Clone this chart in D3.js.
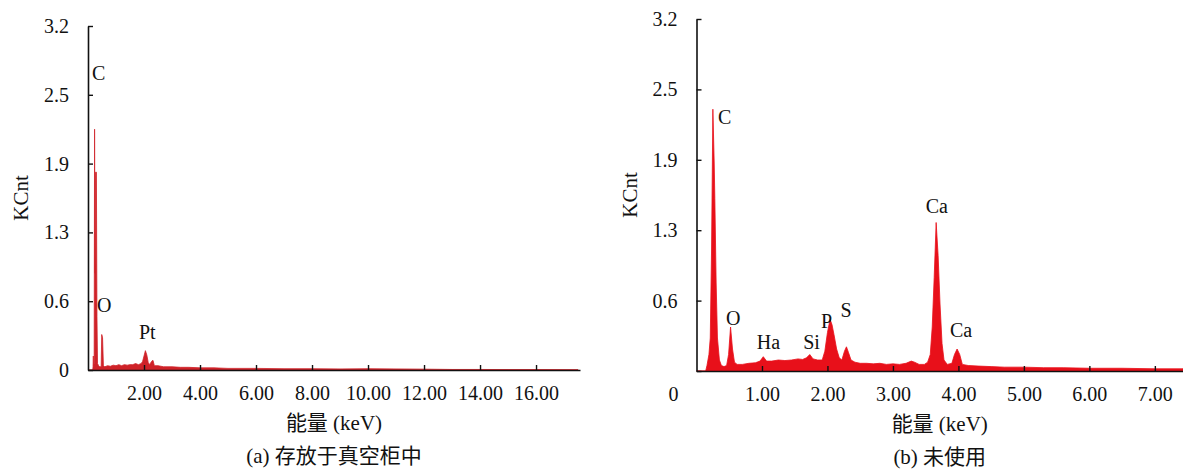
<!DOCTYPE html>
<html>
<head>
<meta charset="utf-8">
<script src="https://cdn.jsdelivr.net/npm/d3@7"></script>
<style>
  html, body { margin: 0; padding: 0; background: #fff; }
  svg text { font-family: "Liberation Serif", "Noto Sans CJK SC", serif; fill: #111; }
</style>
</head>
<body>
<svg id="chart" width="1183" height="471"></svg>
<script>
// ---------- data ----------
// Panel (a): spectrum [energy keV, KCnt]
const spectrumA = [
  [0.00,0],[0.17,0],[0.18,0.03],[0.19,0.13],[0.20,0.04],[0.22,0.06],[0.235,2.24],[0.25,0.9],
  [0.27,1.84],[0.30,1.84],[0.32,0.5],[0.34,0.06],[0.38,0.04],[0.42,0.03],[0.47,0.03],[0.49,0.33],
  [0.52,0.30],[0.55,0.04],[0.6,0.03],[0.7,0.04],[0.8,0.035],[0.9,0.045],[1.0,0.04],[1.1,0.05],
  [1.2,0.04],[1.3,0.05],[1.4,0.045],[1.5,0.05],[1.6,0.05],[1.7,0.06],[1.8,0.05],[1.9,0.06],
  [1.95,0.08],[2.0,0.13],[2.05,0.18],[2.1,0.14],[2.15,0.07],[2.2,0.05],[2.27,0.08],[2.32,0.09],
  [2.37,0.04],[2.5,0.04],[2.7,0.03],[3.0,0.03],[3.3,0.025],[3.6,0.025],[4.0,0.02],[4.5,0.02],
  [5.0,0.015],[5.5,0.015],[6.0,0.015],[7.0,0.012],[8.0,0.012],[9.0,0.01],[10.0,0.012],[11.0,0.01],
  [12.0,0.008],[13.0,0.005],[14.0,0.005],[15.0,0.004],[16.0,0.004],[17.5,0.003]
];
// Panel (b): spectrum [energy keV, KCnt]
const spectrumB = [
  [0.0,0],[0.14,0],[0.16,0.05],[0.19,0.15],[0.21,0.3],[0.23,1.1],[0.25,2.38],[0.27,1.9],[0.28,1.57],
  [0.30,0.8],[0.32,0.3],[0.35,0.1],[0.38,0.05],[0.42,0.04],[0.46,0.05],[0.49,0.15],[0.52,0.40],
  [0.55,0.2],[0.58,0.08],[0.62,0.06],[0.7,0.06],[0.8,0.07],[0.9,0.075],[0.97,0.09],[1.02,0.13],
  [1.07,0.09],[1.15,0.09],[1.25,0.1],[1.35,0.095],[1.45,0.1],[1.55,0.11],[1.62,0.105],[1.68,0.12],
  [1.73,0.15],[1.78,0.11],[1.85,0.1],[1.92,0.1],[1.96,0.18],[2.0,0.35],[2.04,0.47],[2.07,0.42],
  [2.1,0.33],[2.14,0.2],[2.18,0.12],[2.22,0.1],[2.26,0.18],[2.29,0.22],[2.32,0.17],[2.36,0.1],
  [2.42,0.08],[2.5,0.07],[2.6,0.07],[2.7,0.065],[2.8,0.07],[2.9,0.06],[3.0,0.065],[3.1,0.06],
  [3.2,0.07],[3.28,0.09],[3.33,0.08],[3.4,0.06],[3.48,0.06],[3.53,0.08],[3.57,0.15],[3.6,0.4],
  [3.63,0.85],[3.66,1.35],[3.69,1.05],[3.72,0.6],[3.75,0.25],[3.78,0.1],[3.83,0.06],[3.9,0.07],
  [3.94,0.15],[3.98,0.2],[4.02,0.15],[4.06,0.06],[4.15,0.05],[4.3,0.045],[4.5,0.04],[4.7,0.035],
  [5.0,0.035],[5.3,0.03],[5.6,0.03],[6.0,0.025],[6.5,0.025],[7.0,0.02],[7.43,0.02]
];
// peak labels: [text, energy, KCnt] anchor (left / baseline)
const labelsA = [["C",0.14,2.70],["O",0.32,0.54],["Pt",1.82,0.29]];
const labelsB = [["C",0.33,2.25],["O",0.45,0.42],["Ha",0.92,0.20],["Si",1.63,0.20],
                 ["P",1.90,0.39],["S",2.20,0.49],["Ca",3.50,1.44],["Ca",3.87,0.31]];
// tick values / labels
const yTickValues = [0, 0.64, 1.28, 1.92, 2.56, 3.2];
const yTickLabels = ["0", "0.6", "1.3", "1.9", "2.5", "3.2"];
const xTicksA = [2, 4, 6, 8, 10, 12, 14, 16];
const xTicksB = [1, 2, 3, 4, 5, 6, 7];
const yTitle = "KCnt";
const xTitle = "能量 (keV)";
const captionA = "(a) 存放于真空柜中";
const captionB = "(b) 未使用";

// ---------- drawing ----------
const svg = d3.select("#chart");

function panel(opts) {
  const g = svg.append("g");
  const x = d3.scaleLinear().domain([0, opts.xmax]).range([opts.x0, opts.x1]);
  const y = d3.scaleLinear().domain([0, 3.2]).range([opts.y0, opts.y1]);

  const area = d3.area().x(d => x(d[0])).y0(y(0)).y1(d => y(d[1]));
  g.append("path").datum(opts.data)
    .attr("d", area)
    .attr("fill", opts.color)
    .attr("stroke", opts.color)
    .attr("stroke-width", 0.8)
    .attr("stroke-linejoin", "round");

  // y axis
  const yAxis = d3.axisLeft(y).tickValues(yTickValues)
    .tickFormat((d, i) => (opts.skipZero && i === 0) ? "" : yTickLabels[i])
    .tickSizeInner(-5).tickSizeOuter(0).tickPadding(19);
  const ya = g.append("g").attr("transform", `translate(${opts.x0},0)`).call(yAxis);
  ya.select(".domain").attr("stroke", "#111").attr("stroke-width", 1.6);
  ya.selectAll(".tick line").attr("stroke", "#111").attr("stroke-width", 1.4);
  ya.selectAll(".tick text").attr("font-size", 20)
    .attr("font-family", "Liberation Serif, serif").attr("fill", "#111");

  // x axis
  const xAxis = d3.axisBottom(x).tickValues(opts.xticks)
    .tickFormat(d3.format(".2f"))
    .tickSizeInner(-5).tickSizeOuter(0).tickPadding(0);
  const xa = g.append("g").attr("transform", `translate(0,${opts.y0})`).call(xAxis);
  xa.select(".domain").attr("stroke", "#111").attr("stroke-width", 1.6);
  xa.selectAll(".tick line").attr("stroke", "#111").attr("stroke-width", 1.4);
  xa.selectAll(".tick text").attr("font-size", 20)
    .attr("font-family", "Liberation Serif, serif").attr("fill", "#111")
    .attr("dy", null).attr("y", 30);

  if (opts.skipZero) {
    g.append("text").attr("x", opts.x0 - 18).attr("y", opts.y0 + 30)
      .attr("text-anchor", "end").attr("font-size", 20).text(yTickLabels[0]);
  }

  // peak labels
  g.selectAll(".pk").data(opts.labels).enter().append("text")
    .attr("x", d => x(d[1])).attr("y", d => y(d[2]))
    .attr("font-size", 20).text(d => d[0]);

  // titles
  const cx = (opts.x0 + opts.x1) / 2;
  g.append("text").attr("x", cx).attr("y", opts.y0 + 60)
    .attr("text-anchor", "middle").attr("font-size", 21).text(xTitle);
  g.append("text").attr("x", cx).attr("y", opts.y0 + 93)
    .attr("text-anchor", "middle").attr("font-size", 21).text(opts.caption);
  g.append("text")
    .attr("transform", `translate(${opts.x0 - 67},${(opts.y0 + opts.y1) / 2}) rotate(-90)`)
    .attr("text-anchor", "middle").attr("dominant-baseline", "central")
    .attr("font-size", 21).text(yTitle);
}

panel({ data: spectrumA, labels: labelsA, xmax: 17.57, x0: 88, x1: 580, y0: 370, y1: 26,
        xticks: xTicksA, caption: captionA, color: "#cf2228", skipZero: false });
panel({ data: spectrumB, labels: labelsB, xmax: 7.43, x0: 696.5, x1: 1183, y0: 371, y1: 19,
        xticks: xTicksB, caption: captionB, color: "#e8101a", skipZero: true });
</script>
</body>
</html>
